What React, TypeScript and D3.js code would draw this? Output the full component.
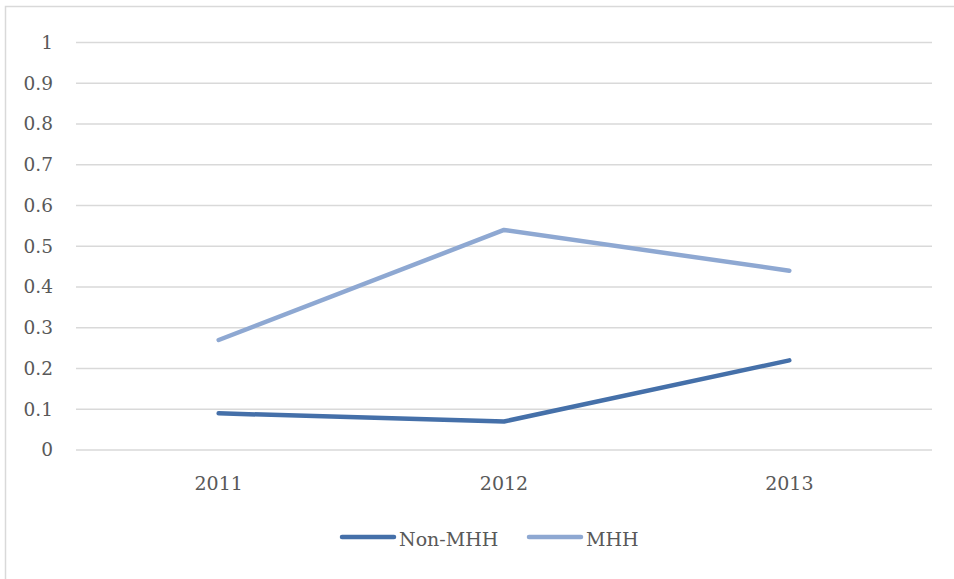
import React from "react";
import * as d3 from "d3";

const years = ["2011", "2012", "2013"];
const nonMHH = [0.09, 0.07, 0.22];
const mhh = [0.27, 0.54, 0.44];
const yTicks = [0, 0.1, 0.2, 0.3, 0.4, 0.5, 0.6, 0.7, 0.8, 0.9, 1];

const seriesNames = ["Non-MHH", "MHH"];
const seriesColors = ["#4570a9", "#8ea8d2"];

const W = 954;
const H = 579;
const FONT = "'DejaVu Serif', serif";

export default function App() {
  const x = d3.scaleBand<string>().domain(years).range([76, 932]);
  const y = d3.scaleLinear().domain([0, 1]).range([450, 42.5]);
  const line = d3
    .line<number>()
    .x((_, i) => (x(years[i]) as number) + x.bandwidth() / 2)
    .y((d) => y(d));
  const series = [nonMHH, mhh];

  const legendItems = [
    { x1: 342, x2: 394, tx: 399 },
    { x1: 529, x2: 581, tx: 586 },
  ];

  return (
    <svg
      width={W}
      height={H}
      style={{ position: "absolute", left: 0, top: 0, background: "#fff" }}
    >
      <rect x={5.5} y={6.5} width={1000} height={700} fill="#fff" stroke="#d9d9d9" strokeWidth={1.5} />
      {yTicks.map((t) => (
        <g key={t}>
          <line x1={x.range()[0]} x2={x.range()[1]} y1={y(t)} y2={y(t)} stroke="#d9d9d9" strokeWidth={1.5} />
          <text x={53} y={y(t)} dy="0.35em" textAnchor="end" fontFamily={FONT} fontSize={18.5} fill="#595959">
            {String(t)}
          </text>
        </g>
      ))}
      {years.map((yr) => (
        <text
          key={yr}
          x={(x(yr) as number) + x.bandwidth() / 2}
          y={483}
          dy="0.35em"
          textAnchor="middle"
          fontFamily={FONT}
          fontSize={19}
          fill="#595959"
        >
          {yr}
        </text>
      ))}
      {series.map((s, i) => (
        <path
          key={seriesNames[i]}
          d={line(s) || ""}
          fill="none"
          stroke={seriesColors[i]}
          strokeWidth={4.5}
          strokeLinecap="round"
          strokeLinejoin="round"
        />
      ))}
      {legendItems.map((it, i) => (
        <g key={seriesNames[i]}>
          <line x1={it.x1} x2={it.x2} y1={537} y2={537} stroke={seriesColors[i]} strokeWidth={4.5} strokeLinecap="round" />
          <text x={it.tx} y={539} dy="0.35em" fontFamily={FONT} fontSize={19} fill="#595959">
            {seriesNames[i]}
          </text>
        </g>
      ))}
    </svg>
  );
}
